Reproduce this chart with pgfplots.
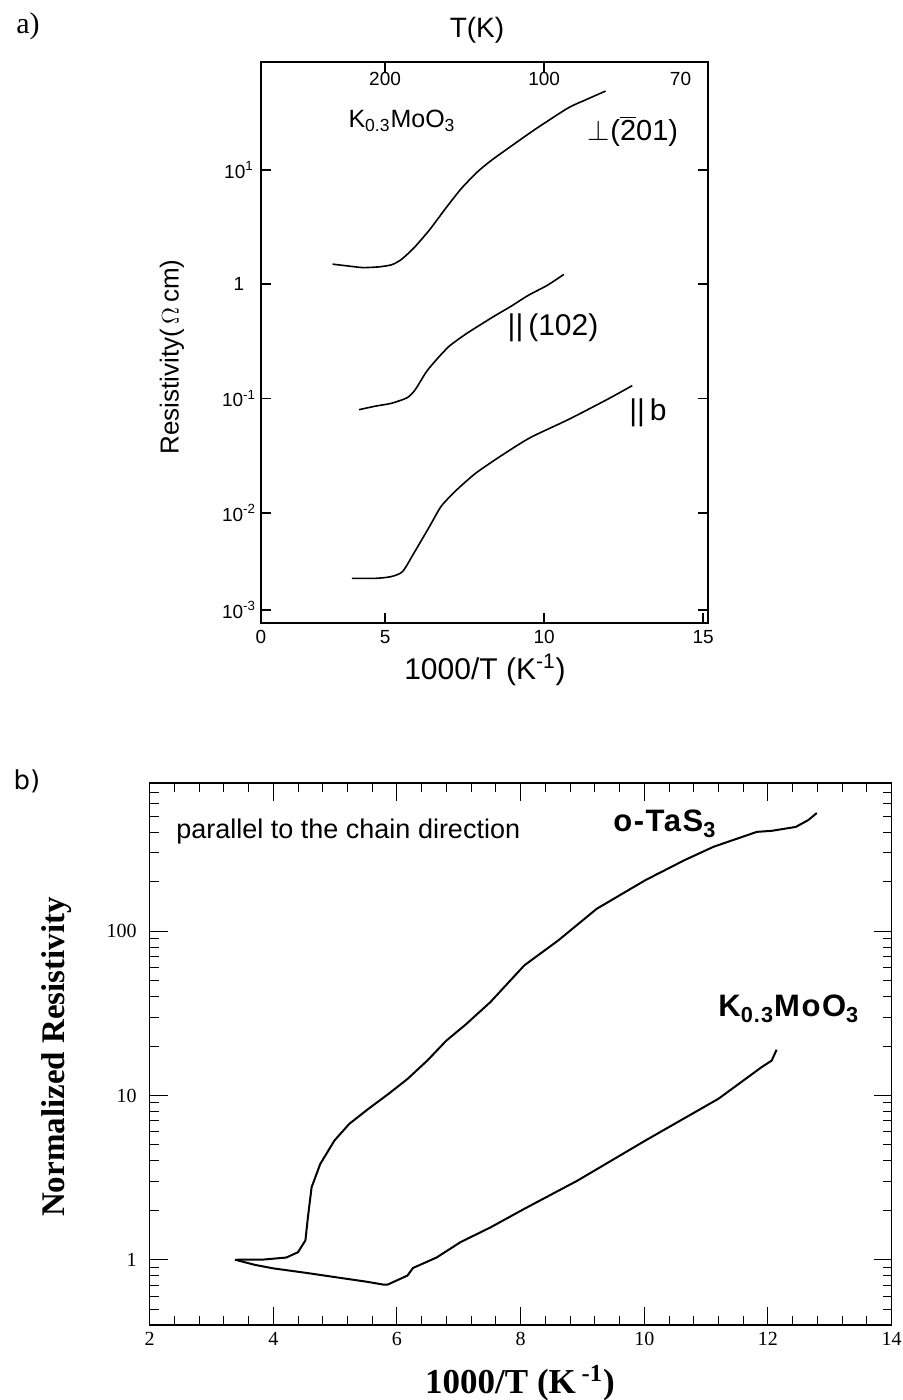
\documentclass[border=0pt]{standalone}
\usepackage{pgfplots}
\pgfplotsset{compat=1.18}
\usepackage{fontspec}
\setmainfont{Liberation Serif}
\newfontfamily\arial{Liberation Sans}
\newfontfamily\arialsp[LetterSpace=5.0]{Liberation Sans}
\newfontfamily\dejavu{DejaVu Sans}

\begin{document}
\begin{tikzpicture}
\useasboundingbox (0,0) rectangle (451.5pt,700pt);

% ---------------- Panel a ----------------
\begin{axis}[
  at={(130.5pt,388.5pt)}, anchor=south west,
  scale only axis, width=223.5pt, height=280.5pt,
  xmin=1.1, xmax=15.15, ymode=log, ymin=0.00109, ymax=88,
  xtick={1.1,5,10,15}, xticklabels={0,5,10,15},
  xtick pos=left, xticklabel pos=left,
  ytick={0.00141,0.01,0.1,1,10},
  yticklabels={10\textsuperscript{-3},10\textsuperscript{-2},10\textsuperscript{-1},1,10\textsuperscript{1}},
  yminorticks=false,
  ticklabel style={font=\arial\fontsize{9.5}{11}\selectfont},
  yticklabel style={anchor=center, xshift=-11pt},
  tick align=inside, major tick length=5pt,
  tick style={black, line width=0.8pt},
  axis line style={line width=1pt},
  clip=false,
]
\addplot[black, line width=0.8pt, smooth, tension=0.4] coordinates {
(3.35,1.50) (3.8,1.45) (4.3,1.40) (4.8,1.42) (5.2,1.48) (5.5,1.64) (5.9,2.07)
(6.4,3.0) (6.9,4.6) (7.4,6.9) (7.9,9.6) (8.3,11.9) (8.8,15.0) (9.7,22.5)
(10.74,34.7) (11.3,41) (11.93,49)
};
\addplot[black, line width=0.8pt, smooth, tension=0.4] coordinates {
(4.18,0.080) (4.7,0.086) (5.2,0.091) (5.7,0.102) (5.95,0.12) (6.3,0.172)
(6.65,0.225) (7.0,0.285) (7.3,0.33) (7.65,0.385) (8.4,0.52) (8.95,0.64)
(9.5,0.80) (10.1,0.98) (10.62,1.22)
};
\addplot[black, line width=0.8pt, smooth, tension=0.4] coordinates {
(3.96,0.00268) (4.7,0.00268) (5.18,0.00277) (5.55,0.00307) (5.91,0.00447)
(6.40,0.00764) (6.77,0.0115) (7.26,0.0160) (7.87,0.0225) (8.72,0.0326)
(9.57,0.0457) (10.79,0.0662) (12.01,0.0993) (12.77,0.130)
};
\end{axis}
\begin{axis}[
  at={(130.5pt,388.5pt)}, anchor=south west,
  scale only axis, width=223.5pt, height=280.5pt,
  xmin=1.1, xmax=15.15, ymode=log, ymin=0.00109, ymax=88,
  axis line style={draw=none}, ytick=\empty, yminorticks=false,
  xtick={5,10}, xticklabels={200,100},
  extra x ticks={14.2857}, extra x tick labels={70},
  extra x tick style={major tick length=0pt},
  xtick pos=right, xticklabel pos=right,
  tick align=inside, major tick length=5pt,
  tick style={black, line width=0.8pt},
  ticklabel style={font=\arial\fontsize{9.5}{11}\selectfont},
  xticklabel style={anchor=north, yshift=-1.5pt},
]
\addplot[draw=none] coordinates {(5,1)};
\end{axis}

\node[font=\fontsize{15}{17}\selectfont] at (14pt,687pt) {a)};
\node[font=\arial\fontsize{14}{16}\selectfont] at (238.5pt,685pt) {T(K)};
\node[font=\arial\fontsize{12.5}{14}\selectfont] at (201pt,639.5pt) {K\textsubscript{0.3}MoO\textsubscript{3}};
\node[font=\arial\fontsize{14.5}{16}\selectfont] at (316.5pt,634.5pt) {$\perp$(\ensuremath{\overline{\hbox{2}}}01)};
\node[font=\arial\fontsize{15}{17}\selectfont] at (276.5pt,536pt) {\textbar\textbar\,(102)};
\node[font=\arial\fontsize{15}{17}\selectfont] at (324pt,493.5pt) {\textbar\textbar\,b};
\node[font=\arial\fontsize{15}{17}\selectfont] at (242.5pt,365pt) {1000/T (K\textsuperscript{-1})};
\node[font=\arial\fontsize{13}{15}\selectfont, rotate=90] at (86pt,521.5pt) {Resistivity(\,$\Omega$\,cm)};

% ---------------- Panel b ----------------
\begin{axis}[
  at={(74.8pt,37.5pt)}, anchor=south west,
  scale only axis, width=371pt, height=271pt,
  xmin=2, xmax=14, ymode=log, ymin=0.4, ymax=800,
  xtick={2,4,...,14}, minor x tick num=4,
  ytick={1,10,100}, yticklabels={1,10,100},
  minor ytick={0.4,0.5,0.6,0.7,0.8,0.9,2,3,4,5,6,7,8,9,20,30,40,50,60,70,80,90,200,300,400,500,600,700,800},
  tick align=inside, major tick length=9pt, minor tick length=4.5pt,
  tick style={black, line width=0.5pt},
  axis line style={line width=0.8pt},
  ticklabel style={font=\fontsize{10}{12}\selectfont},
  /pgf/number format/assume math mode=true,
  yticklabel style={xshift=-3pt},
]
\addplot[black, line width=1pt] coordinates {
(3.41,1.0) (3.82,1.0) (4.21,1.03) (4.40,1.11) (4.52,1.31) (4.56,1.81)
(4.62,2.76) (4.76,3.83) (4.99,5.32) (5.23,6.72) (5.54,8.3) (5.86,10.2)
(6.17,12.6) (6.49,16.3) (6.80,21.6) (7.11,27) (7.51,37) (8.06,62) (8.61,88)
(9.23,137) (10.02,205) (10.65,271) (11.12,327) (11.82,403) (12.06,409)
(12.45,432) (12.65,475) (12.79,525)
};
\addplot[black, line width=1pt] coordinates {
(3.38,1.0) (3.7,0.93) (4.0,0.885) (4.54,0.83) (5.08,0.775) (5.5,0.735)
(5.78,0.705) (5.85,0.705) (6.17,0.80) (6.26,0.89) (6.64,1.03) (7.03,1.28)
(7.51,1.57) (8.06,2.04) (8.92,3.03) (10.02,5.32) (11.20,9.55) (11.90,14.9)
(12.06,16.3) (12.14,19.0)
};
\end{axis}

\node[font=\dejavu\fontsize{13}{15}\selectfont] at (13.5pt,309.5pt) {b)};
\node[font=\arial\fontsize{13.5}{15}\selectfont, anchor=west, inner sep=0pt] at (88pt,284pt) {parallel to the chain direction};
\node[font=\arialsp\bfseries\fontsize{15.5}{17}\selectfont, anchor=base west, inner sep=0pt] at (306.5pt,284pt) {o-TaS\textsubscript{3}};
\node[font=\arialsp\bfseries\fontsize{15.5}{17}\selectfont, anchor=base west, inner sep=0pt] at (359pt,191.5pt) {K\textsubscript{0.3}MoO\textsubscript{3}};
\node[font=\bfseries\fontsize{17.5}{20}\selectfont] at (260pt,8.5pt) {1000/T (K\,\textsuperscript{-1})};
\node[font=\bfseries\fontsize{16.5}{19}\selectfont, rotate=90] at (28.5pt,171.5pt) {Normalized Resistivity};
\end{tikzpicture}
\end{document}
